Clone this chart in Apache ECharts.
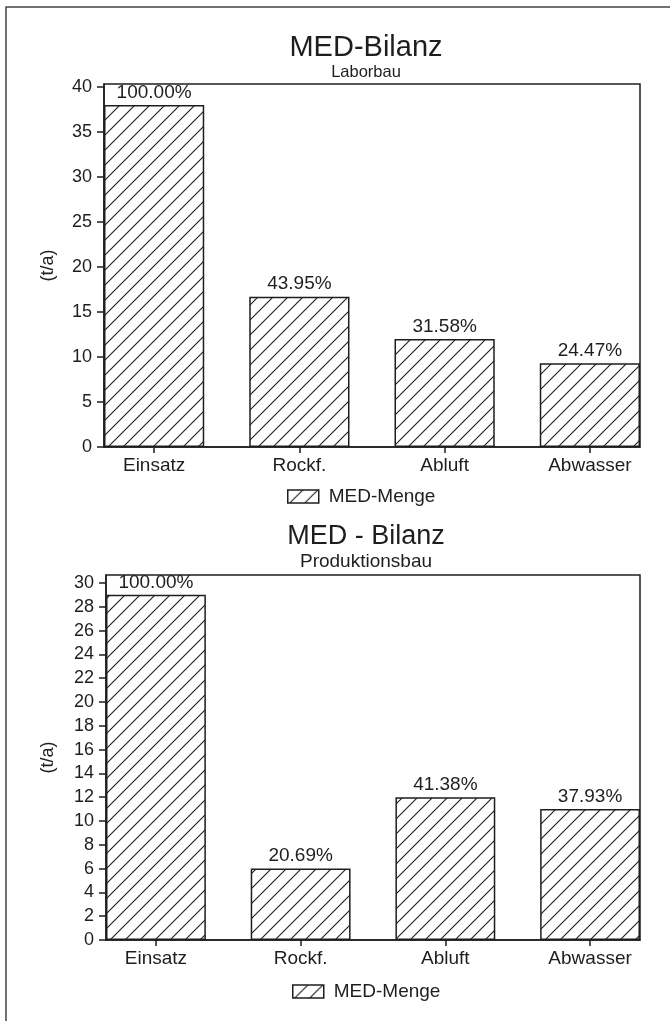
<!DOCTYPE html>
<html><head><meta charset="utf-8">
<script src="https://cdn.jsdelivr.net/npm/echarts@6/dist/echarts.min.js"></script>
<style>html,body{margin:0;padding:0;background:#fff}#c{width:670px;height:1021px}</style>
</head><body><div id="c"></div>
<script>
// ---- data ----
const categories = ['Einsatz', 'Rockf.', 'Abluft', 'Abwasser'];
const laborValues = [38, 16.7, 12, 9.3];
const laborPercent = ['100.00%', '43.95%', '31.58%', '24.47%'];
const laborTicks = [0, 5, 10, 15, 20, 25, 30, 35, 40];
const prodValues = [29, 6, 12, 11];
const prodPercent = ['100.00%', '20.69%', '41.38%', '37.93%'];
const prodTicks = [0, 2, 4, 6, 8, 10, 12, 14, 16, 18, 20, 22, 24, 26, 28, 30];
const seriesName = 'MED-Menge';
const titles = ['MED-Bilanz', 'MED - Bilanz'];
const subtitles = ['Laborbau', 'Produktionsbau'];
const yName = '(t/a)';

// ---- styling ----
const FONT = "'Liberation Sans', Arial, Helvetica, sans-serif";
const INK = '#1e1e1e';
const W = 670;
const G1 = {left: 104, right: 30, top: 84, height: 363, ymax: 40.33};
const G2 = {left: 106, right: 30, top: 575, height: 365, ymax: 30.67};
const XMIN = -0.345, XMAX = 3.345;
function barW(g) { return (W - g.left - g.right) * (2 * -XMIN) / (XMAX - XMIN); }

function hatch() {
  const s = 15;
  const c = document.createElement('canvas');
  c.width = s; c.height = s;
  const g = c.getContext('2d');
  g.fillStyle = '#fff'; g.fillRect(0, 0, s, s);
  g.strokeStyle = INK; g.lineWidth = 1.1;
  g.beginPath();
  g.moveTo(0, s); g.lineTo(s, 0);
  g.moveTo(-2, 2); g.lineTo(2, -2);
  g.moveTo(s - 2, s + 2); g.lineTo(s + 2, s - 2);
  g.stroke();
  return c;
}
const pattern = {image: hatch(), repeat: 'repeat'};
const catIdx = categories.map((_, i) => i);
const lineStyle = {color: INK, width: 1.5};

function xAxis(gi) {
  return {
    type: 'value', gridIndex: gi, min: XMIN, max: XMAX,
    axisLine: {show: true, onZero: false, lineStyle},
    axisTick: {show: true, customValues: catIdx, length: 6, lineStyle},
    axisLabel: {customValues: catIdx, formatter: v => categories[Math.round(v)],
      fontSize: 19, color: INK, fontFamily: FONT, margin: 9},
    splitLine: {show: false}
  };
}
function yAxis(gi, ticks, max, gap) {
  return {
    type: 'value', gridIndex: gi, min: 0, max: max,
    name: yName, nameLocation: 'middle', nameGap: gap,
    nameTextStyle: {fontSize: 18, color: INK, fontFamily: FONT},
    axisLine: {show: true, onZero: false, lineStyle},
    axisTick: {show: true, customValues: ticks, length: 7, lineStyle},
    axisLabel: {customValues: ticks, fontSize: 18, color: INK, fontFamily: FONT, margin: 12},
    splitLine: {show: false}
  };
}
function series(i, g, values, pct) {
  return {
    type: 'bar', name: seriesName, xAxisIndex: i, yAxisIndex: i,
    data: values.map((v, k) => [k, v]),
    barWidth: barW(g),
    itemStyle: {color: pattern, borderColor: INK, borderWidth: 1.5},
    label: {show: true, position: 'top', distance: 3,
      formatter: p => pct[p.dataIndex], fontSize: 19, color: INK, fontFamily: FONT},
    emphasis: {disabled: true}
  };
}
function title(i, top, tSize, sSize) {
  return {
    text: titles[i], subtext: subtitles[i], left: 361, top: top, textAlign: 'center', itemGap: 2,
    textStyle: {fontSize: tSize, fontWeight: 'normal', color: INK, fontFamily: FONT},
    subtextStyle: {fontSize: sSize, color: INK, fontFamily: FONT}
  };
}
function legend(left, top) {
  return {
    data: [seriesName], left: left, top: top, icon: 'rect', itemWidth: 31, itemHeight: 13,
    textStyle: {fontSize: 19, color: INK, fontFamily: FONT, padding: [0, 0, 0, 5]},
    itemStyle: {borderColor: INK, borderWidth: 1.5}
  };
}

const chart = echarts.init(document.getElementById('c'), null, {renderer: 'canvas'});
chart.setOption({
  backgroundColor: '#fff',
  animation: false,
  title: [title(0, 28, 29, 16.5), title(1, 518, 27, 19)],
  legend: [legend(282, 482), legend(287, 977)],
  grid: [
    {left: G1.left, right: G1.right, top: G1.top, height: G1.height, show: true, borderColor: INK, borderWidth: 1.5},
    {left: G2.left, right: G2.right, top: G2.top, height: G2.height, show: true, borderColor: INK, borderWidth: 1.5}
  ],
  xAxis: [xAxis(0), xAxis(1)],
  yAxis: [yAxis(0, laborTicks, G1.ymax, 47), yAxis(1, prodTicks, G2.ymax, 49)],
  series: [series(0, G1, laborValues, laborPercent), series(1, G2, prodValues, prodPercent)],
  graphic: [{type: 'rect', silent: true, shape: {x: 6, y: 7, width: 700, height: 1100},
    style: {fill: 'none', stroke: '#444', lineWidth: 1.5}}]
});
</script>
</body></html>
